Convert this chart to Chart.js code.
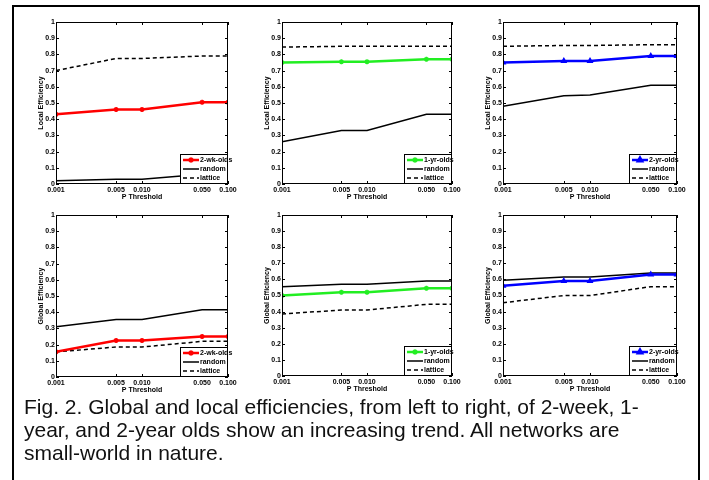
<!DOCTYPE html>
<html>
<head>
<meta charset="utf-8">
<script src="https://cdn.jsdelivr.net/npm/chart.js@4"></script>
<style>
  body { margin: 0; background: #fff; width: 709px; height: 480px; overflow: hidden; position: relative; font-family: "Liberation Sans", Arial, sans-serif; }
  #frame { position: absolute; left: 12px; top: 5px; width: 684px; height: 490px; border: 2px solid #000; }
  canvas { position: absolute; }
  #caption { position: absolute; left: 24px; top: 395px; font-size: 21px; line-height: 23px; color: #111; white-space: nowrap; }
</style>
</head>
<body>
<div id="frame"></div>
<canvas id="c1"></canvas>
<canvas id="c2"></canvas>
<canvas id="c3"></canvas>
<canvas id="c4"></canvas>
<canvas id="c5"></canvas>
<canvas id="c6"></canvas>
<div id="caption">Fig. 2. Global and local efficiencies, from left to right, of 2-week, 1-<br>year, and 2-year olds show an increasing trend. All networks are<br>small-world in nature.</div>
<script>
// p values on the x axis (log scale)
const thresholds = [0.001, 0.005, 0.010, 0.050, 0.100];
const yTicks = [0, 0.1, 0.2, 0.3, 0.4, 0.5, 0.6, 0.7, 0.8, 0.9, 1];

// local efficiency (top row)
const localWk = [0.43, 0.46, 0.46, 0.505, 0.505];
const localWkRandom = [0.02, 0.03, 0.03, 0.06, 0.06];
const localWkLattice = [0.70, 0.775, 0.775, 0.79, 0.79];
const local1yr = [0.75, 0.755, 0.755, 0.77, 0.77];
const local1yrRandom = [0.26, 0.33, 0.33, 0.43, 0.43];
const local1yrLattice = [0.845, 0.85, 0.85, 0.85, 0.85];
const local2yr = [0.75, 0.76, 0.76, 0.79, 0.79];
const local2yrRandom = [0.48, 0.545, 0.55, 0.61, 0.61];
const local2yrLattice = [0.85, 0.855, 0.855, 0.86, 0.86];

// global efficiency (bottom row)
const globalWk = [0.155, 0.225, 0.225, 0.25, 0.25];
const globalWkRandom = [0.31, 0.355, 0.355, 0.415, 0.415];
const globalWkLattice = [0.155, 0.185, 0.185, 0.22, 0.22];
const global1yr = [0.50, 0.52, 0.52, 0.545, 0.545];
const global1yrRandom = [0.555, 0.57, 0.57, 0.59, 0.59];
const global1yrLattice = [0.385, 0.41, 0.41, 0.445, 0.445];
const global2yr = [0.56, 0.59, 0.59, 0.63, 0.63];
const global2yrRandom = [0.595, 0.615, 0.615, 0.64, 0.64];
const global2yrLattice = [0.455, 0.50, 0.50, 0.555, 0.555];

const groupNames = ['2-wk-olds', '1-yr-olds', '2-yr-olds'];
const groupColors = ['#ff0000', '#22ee22', '#0000ff'];
const groupMarkers = ['star', 'star', 'triangle'];

const FONT = '"Liberation Sans", Arial, sans-serif';

function pairs(vals) {
    return thresholds.map((t, i) => ({ x: t, y: vals[i] }));
}

// matlab style box with inward ticks
const boxPlugin = {
    id: 'box',
    afterDraw(chart) {
        const ctx = chart.ctx;
        const a = chart.chartArea;
        const xs = chart.scales.x, ys = chart.scales.y;
        ctx.save();
        ctx.strokeStyle = '#000';
        ctx.lineWidth = 1;
        ctx.strokeRect(a.left + 0.5, a.top + 0.5, a.right - a.left - 1, a.bottom - a.top - 1);
        ctx.beginPath();
        ys.ticks.forEach(t => {
            const y = Math.round(ys.getPixelForValue(t.value)) + 0.5;
            ctx.moveTo(a.left, y); ctx.lineTo(a.left + 3, y);
            ctx.moveTo(a.right, y); ctx.lineTo(a.right - 3, y);
        });
        xs.ticks.forEach(t => {
            const x = Math.round(xs.getPixelForValue(t.value)) + 0.5;
            ctx.moveTo(x, a.bottom); ctx.lineTo(x, a.bottom - 3);
            ctx.moveTo(x, a.top); ctx.lineTo(x, a.top + 3);
        });
        ctx.stroke();
        ctx.restore();
    }
};

// legend box in the bottom right corner
const cornerLegend = {
    id: 'cornerLegend',
    afterDraw(chart) {
        const ctx = chart.ctx;
        const a = chart.chartArea;
        const w = 47, h = 29;
        const x0 = a.right - w - 1, y0 = a.bottom - h - 1;
        ctx.save();
        ctx.fillStyle = '#fff';
        ctx.fillRect(x0, y0, w, h);
        ctx.strokeStyle = '#000';
        ctx.lineWidth = 1;
        ctx.strokeRect(x0 + 0.5, y0 + 0.5, w, h);
        ctx.font = 'bold 7px ' + FONT;
        ctx.textBaseline = 'middle';
        chart.data.datasets.forEach((ds, i) => {
            const y = y0 + 6 + i * 9;
            ctx.strokeStyle = ds.borderColor;
            ctx.lineWidth = ds.borderWidth;
            ctx.setLineDash(ds.borderDash || []);
            ctx.beginPath();
            ctx.moveTo(x0 + 3, y);
            ctx.lineTo(x0 + 19, y);
            ctx.stroke();
            ctx.setLineDash([]);
            if (ds.pointRadius > 0) {
                Chart.helpers.drawPoint(ctx, {
                    pointStyle: ds.pointStyle, radius: ds.pointRadius, borderWidth: 1.5, rotation: 0
                }, x0 + 11, y);
            }
            ctx.fillStyle = '#000';
            ctx.fillText(ds.label, x0 + 20, y);
        });
        ctx.restore();
    }
};

function makePanel(id, rect, yTitle, g, main, rnd, lat) {
    const [L, T, R, B] = rect;
    const padL = 4, padT = 10, padR = 14, padB = 3, yW = 19, xH = 17;
    const canvas = document.getElementById(id);
    canvas.style.left = (L - yW - padL) + 'px';
    canvas.style.top = (T - padT) + 'px';
    canvas.width = (R - L) + yW + padL + padR;
    canvas.height = (B - T) + xH + padT + padB;
    new Chart(canvas, {
        type: 'line',
        data: {
            datasets: [
                {
                    label: groupNames[g],
                    data: pairs(main),
                    borderColor: groupColors[g],
                    backgroundColor: groupColors[g],
                    borderWidth: 2.5,
                    pointStyle: groupMarkers[g],
                    pointRadius: 2.5,
                    pointBorderWidth: 1.5
                },
                {
                    label: 'random',
                    data: pairs(rnd),
                    borderColor: '#000',
                    borderWidth: 1.5,
                    pointRadius: 0
                },
                {
                    label: 'lattice',
                    data: pairs(lat),
                    borderColor: '#000',
                    borderWidth: 1.5,
                    borderDash: [4, 3],
                    pointRadius: 0
                }
            ]
        },
        options: {
            responsive: false,
            animation: false,
            layout: { padding: { left: padL, top: padT, right: padR, bottom: padB } },
            plugins: { legend: { display: false }, tooltip: { enabled: false } },
            scales: {
                x: {
                    type: 'logarithmic',
                    min: 0.001,
                    max: 0.1,
                    afterBuildTicks: s => { s.ticks = thresholds.map(v => ({ value: v })); },
                    afterFit: s => { s.height = xH; },
                    grid: { display: false, drawTicks: false },
                    border: { display: false },
                    ticks: {
                        autoSkip: false, maxRotation: 0, padding: 2, color: '#000',
                        font: { family: FONT, size: 7, weight: 'bold' },
                        callback: v => Number(v).toFixed(3)
                    },
                    title: {
                        display: true, text: 'P Threshold', color: '#000', padding: 0,
                        font: { family: FONT, size: 7, weight: 'bold' }
                    }
                },
                y: {
                    min: 0,
                    max: 1,
                    afterBuildTicks: s => { s.ticks = yTicks.map(v => ({ value: v })); },
                    afterFit: s => { s.width = yW; },
                    grid: { display: false, drawTicks: false },
                    border: { display: false },
                    ticks: {
                        padding: 1, color: '#000',
                        font: { family: FONT, size: 7, weight: 'bold' },
                        callback: v => (v === 0 ? '0' : v === 1 ? '1' : Number(v).toFixed(1))
                    },
                    title: {
                        display: true, text: yTitle, color: '#000', padding: 0,
                        font: { family: FONT, size: 7, weight: 'bold' }
                    }
                }
            }
        },
        plugins: [boxPlugin, cornerLegend]
    });
}

makePanel('c1', [56, 22, 228, 184], 'Local Efficiency', 0, localWk, localWkRandom, localWkLattice);
makePanel('c2', [282, 22, 452, 184], 'Local Efficiency', 1, local1yr, local1yrRandom, local1yrLattice);
makePanel('c3', [503, 22, 677, 184], 'Local Efficiency', 2, local2yr, local2yrRandom, local2yrLattice);
makePanel('c4', [56, 215, 228, 377], 'Global Efficiency', 0, globalWk, globalWkRandom, globalWkLattice);
makePanel('c5', [282, 215, 452, 376], 'Global Efficiency', 1, global1yr, global1yrRandom, global1yrLattice);
makePanel('c6', [503, 215, 677, 376], 'Global Efficiency', 2, global2yr, global2yrRandom, global2yrLattice);
</script>
</body>
</html>
